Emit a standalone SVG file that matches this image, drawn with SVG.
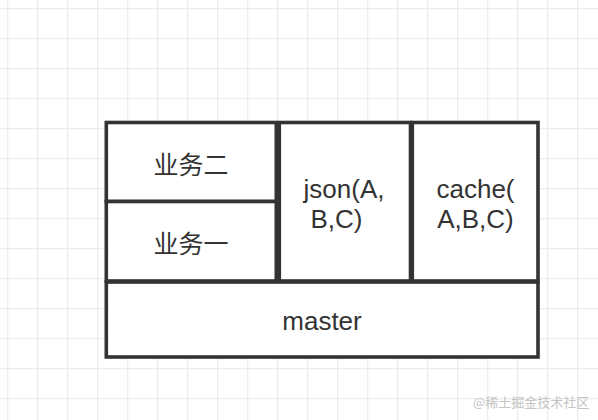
<svg xmlns="http://www.w3.org/2000/svg" width="598" height="420" viewBox="0 0 598 420">
  <defs>
    <pattern id="grid" x="7" y="8" width="30" height="30" patternUnits="userSpaceOnUse">
      <path d="M0.5 0 V30 M0 0.5 H30" fill="none" stroke="#ececec" stroke-width="1.6"/>
    </pattern>
    <style>
      .box { fill: #ffffff; stroke: #333333; stroke-width: 3.6; }
      .lbl { font-family: "Liberation Sans", "Noto Sans CJK SC", sans-serif; font-size: 26px; fill: #333333; text-anchor: middle; }
      .cjk { font-family: "Noto Sans CJK SC", "Liberation Sans", sans-serif; font-size: 25px; fill: #333333; text-anchor: middle; }
      .wm { font-family: "Noto Sans CJK SC", sans-serif; font-size: 13px; fill: #c4c4c4; }
    </style>
  </defs>
  <rect x="0" y="0" width="598" height="420" fill="#ffffff"/>
  <rect x="0" y="0" width="598" height="420" fill="url(#grid)"/>

  <g id="connectors"></g>

  <g id="master">
    <rect class="box" x="106.3" y="282" width="431.7" height="75"/>
    <text class="lbl" x="322" y="330">master</text>
  </g>
  <g id="biz2">
    <rect class="box" x="106.3" y="122.5" width="170" height="79"/>
    <text class="cjk" x="191" y="174">业务二</text>
  </g>
  <g id="biz1">
    <rect class="box" x="106.3" y="201.5" width="170" height="79.5"/>
    <text class="cjk" x="191" y="253">业务一</text>
  </g>
  <g id="json">
    <rect class="box" x="279.3" y="122.5" width="131.2" height="158.5"/>
    <text class="lbl" x="344" y="198">json(A,</text>
    <text class="lbl" x="336.5" y="228">B,C)</text>
  </g>
  <g id="cache">
    <rect class="box" x="412.3" y="122.5" width="125.7" height="158.5"/>
    <text class="lbl" x="475.5" y="198">cache(</text>
    <text class="lbl" x="475.5" y="228">A,B,C)</text>
  </g>

  <text class="wm" x="473" y="407">@稀土掘金技术社区</text>
</svg>
